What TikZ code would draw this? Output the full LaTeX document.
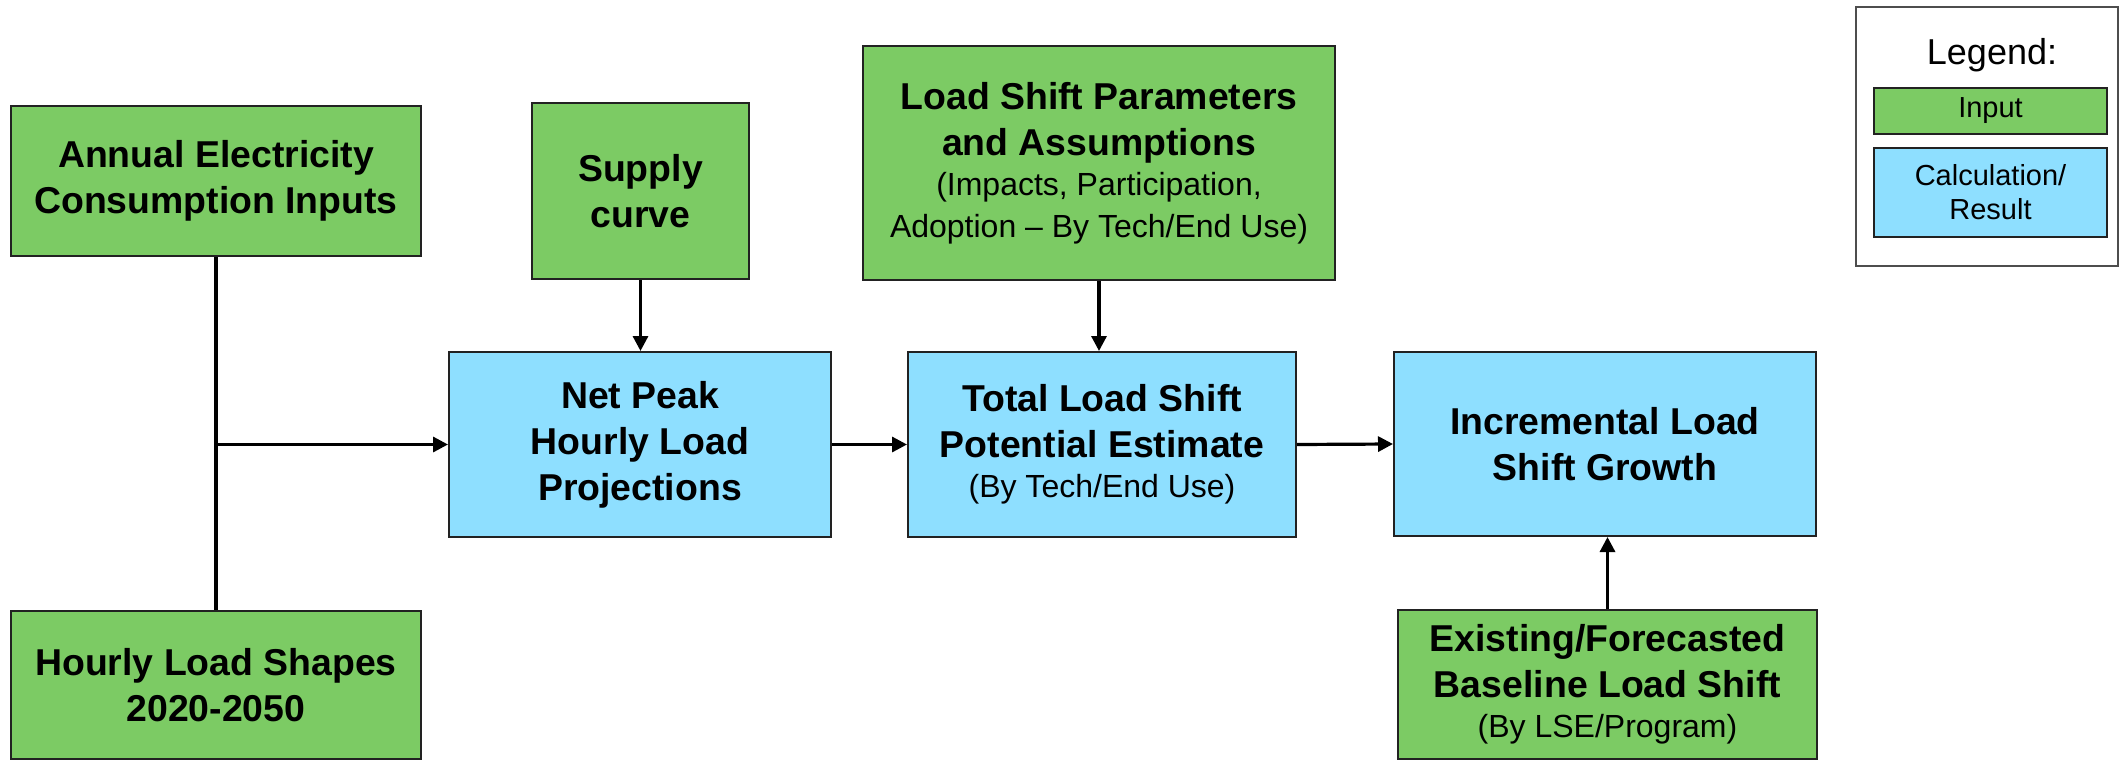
\documentclass[tikz,border=0pt]{standalone}
\usepackage{fontspec}
\setmainfont{Liberation Sans}
\usetikzlibrary{arrows.meta}
\definecolor{ingreen}{HTML}{7CCB64}
\definecolor{calcblue}{HTML}{8EDFFF}
\definecolor{edge}{HTML}{222222}
\newcommand\subtxt{\fontsize{16}{20}\selectfont\mdseries}
\tikzset{
  box/.style={draw=edge, line width=1pt, rectangle, align=center, inner sep=0pt,
    font=\fontsize{18.7}{23}\selectfont\bfseries},
  inbox/.style={box, fill=ingreen},
  calcbox/.style={box, fill=calcblue},
  arr/.style={-{Triangle[length=7.5pt,width=7.5pt]}, line width=1.6pt, draw=black},
  plainline/.style={line width=1.6pt, draw=black},
}
\begin{document}
\begin{tikzpicture}[x=0.5pt, y=-0.5pt]
\useasboundingbox (0,0) rectangle (2125,760);

% inputs
\node[inbox, minimum width=205pt, minimum height=75pt] (ann) at (216,181)
  {Annual Electricity\\Consumption Inputs};
\node[inbox, minimum width=205pt, minimum height=74pt] (hrs) at (216,685)
  {Hourly Load Shapes\\2020-2050};
\node[inbox, minimum width=108.5pt, minimum height=88pt] (sup) at (640.5,191)
  {Supply\\curve};
\node[inbox, minimum width=236pt, minimum height=117pt] (lsp) at (1099,163)
  {Load Shift Parameters\\and Assumptions\\[-3pt]\subtxt (Impacts, Participation,\\[-2pt]\subtxt Adoption -- By Tech/End Use)};
\node[inbox, minimum width=209.5pt, minimum height=74.5pt] (exi) at (1607.5,684.5)
  {Existing/Forecasted\\Baseline Load Shift\\[-3pt]\subtxt (By LSE/Program)};

% calculations
\node[calcbox, minimum width=191pt, minimum height=92.5pt] (net) at (640,444.5)
  {Net Peak\\Hourly Load\\Projections};
\node[calcbox, minimum width=194pt, minimum height=92.5pt] (tot) at (1102,444.5)
  {Total Load Shift\\Potential Estimate\\[-3pt]\subtxt (By Tech/End Use)};
\node[calcbox, minimum width=211pt, minimum height=92pt] (inc) at (1605,444)
  {Incremental Load\\Shift Growth};

% connectors
\draw[plainline] (ann.south) -- (hrs.north);
\coordinate (jn) at (ann.south |- net.west);
\draw[arr] (jn) -- (net.west);
\draw[arr] (sup.south) -- (sup.south |- net.north);
\draw[arr] (lsp.south) -- (lsp.south |- tot.north);
\draw[arr] (net.east) -- (tot.west);
\draw[arr] (tot.east) -- (inc.west);
\draw[arr] (exi.north) -- (exi.north |- inc.south);

% legend
\node[draw=edge!80, line width=0.8pt, minimum width=131pt, minimum height=129.5pt, inner sep=0pt] (leg) at (1987,136.5) {};
\node[font=\fontsize{18}{22}\selectfont, inner sep=0pt] (legt) at (1992,55) {Legend:};
\node[draw=edge, line width=0.8pt, fill=ingreen, minimum width=116.5pt, minimum height=23pt, inner sep=0pt,
  font=\fontsize{14.5}{17}\selectfont] (legin) at (1990.5,111) {Input};
\node[draw=edge, line width=0.8pt, fill=calcblue, minimum width=116.5pt, minimum height=44.5pt, inner sep=0pt,
  align=center, font=\fontsize{14.5}{17}\selectfont] (legcalc) at (1990.5,192.5) {Calculation/\\Result};
\end{tikzpicture}
\end{document}
